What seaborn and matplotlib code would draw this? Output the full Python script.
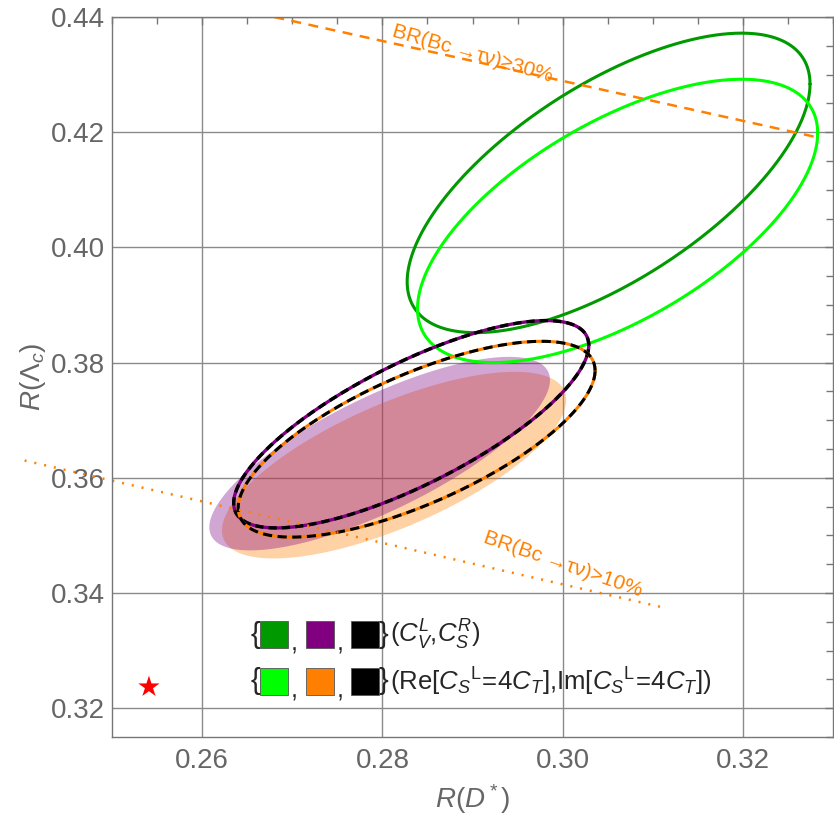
import numpy as np
import seaborn as sns
import matplotlib.pyplot as plt
from matplotlib.patches import Rectangle

# Regions: centre, spread in x / y and correlation
# (each boundary is the ellipse of that 2x2 covariance)
region_names = ["cv_green", "cv_fill", "cv_ring", "cs_green", "cs_fill", "cs_ring"]
region_cx = [0.3051, 0.2797, 0.2832, 0.3061, 0.2813, 0.2838]
region_cy = [0.4112, 0.3642, 0.3693, 0.4046, 0.3622, 0.3667]
region_sx = [0.02235, 0.0189, 0.0197, 0.0222, 0.0191, 0.0198]
region_sy = [0.0260, 0.0168, 0.0180, 0.0246, 0.0162, 0.0170]
region_rho = [0.66, 0.76, 0.76, 0.62, 0.70, 0.70]

# BR(Bc -> tau nu) limit lines
br30_x = [0.268, 0.328]
br30_y = [0.4400, 0.4192]
br10_x = [0.2403, 0.3114]
br10_y = [0.3630, 0.3374]

# Standard Model point
sm_x = [0.2541]
sm_y = [0.3237]

x_ticks = [0.26, 0.28, 0.30, 0.32]
y_ticks = [0.32, 0.34, 0.36, 0.38, 0.40, 0.42, 0.44]

dark_green = "#009a00"
light_green = "#00ff00"
purple = "#800080"
orange = "#ff8000"
grey = "#666666"


def boundary(i, n=600):
    t = np.linspace(0, 2 * np.pi, n)
    r = region_rho[i]
    x = region_cx[i] + region_sx[i] * np.cos(t)
    y = region_cy[i] + region_sy[i] * (r * np.cos(t) + np.sqrt(1 - r ** 2) * np.sin(t))
    return x, y


sns.set_style("white")
plt.rcParams['font.family'] = ['Liberation Sans', 'DejaVu Sans']
plt.rcParams['mathtext.fontset'] = 'custom'
plt.rcParams['mathtext.rm'] = 'Liberation Sans'
plt.rcParams['mathtext.it'] = 'Liberation Sans:italic'

fig = plt.figure(figsize=(8.34, 8.22), dpi=100)
ax = fig.add_axes([0.1343, 0.1034, 0.8645, 0.8759])

# filled regions
x, y = boundary(region_names.index("cs_fill"))
ax.fill(x, y, color=orange, alpha=0.35, lw=0)
x, y = boundary(region_names.index("cv_fill"))
ax.fill(x, y, color=purple, alpha=0.35, lw=0)

# green contours
x, y = boundary(region_names.index("cv_green"))
sns.lineplot(x=x, y=y, sort=False, estimator=None, color=dark_green, lw=2.2, ax=ax)
x, y = boundary(region_names.index("cs_green"))
sns.lineplot(x=x, y=y, sort=False, estimator=None, color=light_green, lw=2.2, ax=ax)

# purple / orange contours with black dashes on top
x, y = boundary(region_names.index("cv_ring"))
sns.lineplot(x=x, y=y, sort=False, estimator=None, color=purple, lw=2.4, ax=ax)
sns.lineplot(x=x, y=y, sort=False, estimator=None, color="black", lw=2.4,
             linestyle=(0, (2.5, 1.5)), ax=ax)
x, y = boundary(region_names.index("cs_ring"))
sns.lineplot(x=x, y=y, sort=False, estimator=None, color=orange, lw=2.2, ax=ax)
sns.lineplot(x=x, y=y, sort=False, estimator=None, color="black", lw=2.2,
             linestyle=(0, (3, 1.8)), ax=ax)

# BR limits
sns.lineplot(x=br30_x, y=br30_y, sort=False, estimator=None, color=orange, lw=1.8,
             linestyle=(0, (4, 3)), ax=ax)
sns.lineplot(x=br10_x, y=br10_y, sort=False, estimator=None, color=orange, lw=1.8,
             linestyle=(0, (0.8, 3.2)), clip_on=False, ax=ax)
ax.text(0.2900, 0.4336, "BR(Bc \u2192\u03c4\u03bd)\u226530%", color=orange, fontsize=15,
        rotation=-16, ha="center", va="center")
ax.text(0.3000, 0.3450, "BR(Bc \u2192\u03c4\u03bd)>10%", color=orange, fontsize=15,
        rotation=-19, ha="center", va="center")

# SM star
sns.scatterplot(x=sm_x, y=sm_y, marker="*", s=260, color="red", edgecolor="none", ax=ax)

ax.set_xlim(0.25, 0.33)
ax.set_ylim(0.315, 0.44)
ax.set_xticks(x_ticks)
ax.set_xticklabels([f"{v:.2f}" for v in x_ticks])
ax.set_yticks(y_ticks)
ax.set_yticklabels([f"{v:.2f}" for v in y_ticks])
ax.set_xticks(np.arange(0.25, 0.3301, 0.005), minor=True)
ax.set_yticks(np.arange(0.315, 0.4401, 0.005), minor=True)
ax.tick_params(which="both", direction="in", top=True, right=True, colors="#777777",
               labelcolor=grey, labelsize=20)
ax.tick_params(which="major", length=6, width=1)
ax.tick_params(which="minor", length=5, width=1)
ax.tick_params(axis="x", pad=8)
ax.tick_params(axis="y", pad=5)
ax.grid(True, which="major", color="#8a8a8a", lw=1)
for s in ax.spines.values():
    s.set_color("#777777")
    s.set_linewidth(1)

ax.set_xlabel(r"$R(D^*)$", fontsize=20, color=grey, labelpad=6)
ax.set_ylabel(r"$R(\mathit{\Lambda}_c)$", fontsize=20, color=grey, labelpad=2)

# hand-made legend
rows = [
    (0.1417, [dark_green, purple, "black"], r"$(C_V^L{,}C_S^R)$"),
    (0.0771, [light_green, orange, "black"],
     r"$(\mathrm{Re}[C_S{}^{\mathrm{L}}\!=\!4C_T]{,}\mathrm{Im}[C_S{}^{\mathrm{L}}\!=\!4C_T])$"),
]
sq_left = [0.2053, 0.2691, 0.3315]
comma_x = [0.2520, 0.3158]
for yc, cols, label in rows:
    ax.text(0.1985, yc, "{", transform=ax.transAxes, fontsize=21, ha="center", va="center")
    for xl, c in zip(sq_left, cols):
        ax.add_patch(Rectangle((xl, yc - 0.0187), 0.0388, 0.0375, transform=ax.transAxes,
                               facecolor=c, edgecolor="#555555", lw=0.6, zorder=5))
    for xc in comma_x:
        ax.text(xc, yc - 0.012, ",", transform=ax.transAxes, fontsize=18, ha="center", va="center")
    ax.text(0.3765, yc, "}", transform=ax.transAxes, fontsize=21, ha="center", va="center")
    ax.text(0.386, yc, label, transform=ax.transAxes, fontsize=18.5, ha="left", va="center")

fig.savefig("out.png", dpi=100)
